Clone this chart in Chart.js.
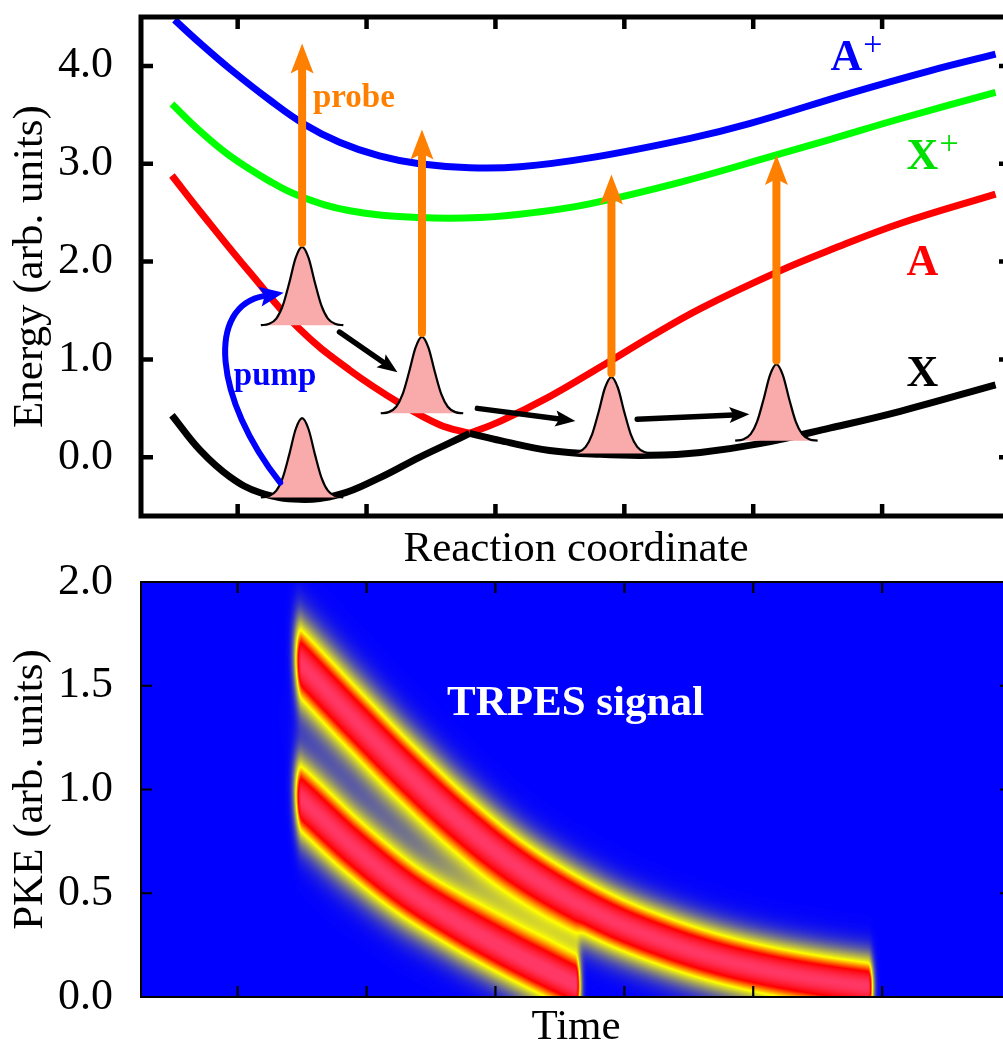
<!DOCTYPE html>
<html>
<head>
<meta charset="utf-8">
<title>Pump-probe photoelectron scheme</title>
<script src="https://cdn.jsdelivr.net/npm/chart.js@4.4.1/dist/chart.umd.min.js"></script>
<style>
  html, body { margin: 0; padding: 0; background: #fff; overflow: hidden; }
  #wrap { position: relative; width: 1003px; height: 1050px; overflow: hidden; }
  canvas { position: absolute; left: 0; }
  #potentials { top: 0; }
  #signal { top: 540px; }
</style>
</head>
<body>
<div id="wrap">
  <canvas id="potentials" width="1030" height="576"></canvas>
  <canvas id="signal" width="1030" height="514"></canvas>
</div>
<script>
// ---- potential curves (reaction coordinate, energy) ----
const groundX = [0.49, 0.71, 0.94, 1.17, 1.48, 1.79, 2.10, 2.41, 2.65, 2.80, 3.04, 3.42, 3.81, 4.20, 4.59, 5.05, 5.60, 6.14, 6.88];
const groundE = [0.43, 0.07, -0.20, -0.36, -0.43, -0.38, -0.21, 0.00, 0.15, 0.245, 0.17, 0.07, 0.03, 0.02, 0.05, 0.14, 0.30, 0.47, 0.74];

const excitedX = [0.49, 0.71, 1.10, 1.48, 1.87, 2.26, 2.57, 2.80, 3.04, 3.42, 3.81, 4.20, 4.59, 5.18, 5.60, 6.14, 6.88];
const excitedE = [2.88, 2.51, 1.88, 1.31, 0.89, 0.55, 0.33, 0.245, 0.37, 0.62, 0.92, 1.23, 1.52, 1.89, 2.12, 2.39, 2.69];

const cationXX = [0.49, 0.71, 0.94, 1.25, 1.48, 1.87, 2.41, 2.88, 3.35, 3.73, 4.43, 5.18, 5.60, 6.14, 6.88];
const cationXE = [3.61, 3.33, 3.08, 2.82, 2.67, 2.52, 2.45, 2.45, 2.51, 2.59, 2.81, 3.09, 3.25, 3.46, 3.73];

const cationAX = [0.51, 0.71, 0.94, 1.25, 1.51, 1.79, 2.10, 2.41, 2.80, 3.19, 3.73, 4.51, 4.97, 5.75, 6.37, 6.88];
const cationAE = [4.47, 4.23, 3.97, 3.65, 3.41, 3.22, 3.08, 3.00, 2.96, 2.97, 3.06, 3.26, 3.41, 3.72, 3.95, 4.12];

const crossingX = 2.80;

// ---- wavepackets ----
const packetX = [1.50, 1.50, 2.43, 3.90, 5.18];
const packetBase = [-0.41, 1.35, 0.45, 0.04, 0.17];
const packetHeight = [0.81, 0.80, 0.78, 0.78, 0.78];
const packetOffsets = [-0.32, -0.26, -0.20, -0.15, -0.10, -0.05, 0, 0.05, 0.10, 0.15, 0.20, 0.26, 0.32];
const packetProfile = [0, 0.015, 0.085, 0.25, 0.54, 0.86, 1, 0.86, 0.54, 0.25, 0.085, 0.015, 0];

// ---- probe arrows, packet hops, pump path ----
const probeX = [1.50, 2.43, 3.90, 5.18];
const probeFrom = [2.19, 1.27, 0.86, 0.99];
const probeTo = [4.23, 3.35, 2.89, 3.09];

const hopFromX = [1.79, 2.86, 4.10];
const hopFromE = [1.28, 0.50, 0.39];
const hopToX = [2.24, 3.62, 4.97];
const hopToE = [0.87, 0.37, 0.44];

const pumpX = [1.33, 0.82, 0.75, 1.21];
const pumpE = [-0.26, 0.59, 1.55, 1.65];

const energyTicks = [0, 1, 2, 3, 4];
const coordTicks = [1, 2, 3, 4, 5, 6];

// ---- TRPES bands (time, photoelectron kinetic energy) ----
const upperBandTime = [1.50, 1.90, 2.30, 2.70, 3.10, 3.50, 3.90, 4.30, 4.70, 5.10, 5.50, 5.89];
const upperBandPke = [1.60, 1.34, 1.09, 0.86, 0.66, 0.50, 0.37, 0.27, 0.19, 0.13, 0.085, 0.05];
const lowerBandTime = [1.50, 1.90, 2.30, 2.70, 3.10, 3.40, 3.62];
const lowerBandPke = [0.95, 0.72, 0.52, 0.36, 0.22, 0.125, 0.06];
const shoulderTime = [1.60, 2.10, 2.88, 3.40, 3.62];
const shoulderPke = [1.21, 0.94, 0.52, 0.30, 0.22];
const shoulderLevel = [0.03, 0.06, 0.10, 0.08, 0.05];

const pkeTicks = [0, 0.5, 1, 1.5, 2];

const SERIF = '"Liberation Serif", "Times New Roman", serif';
Chart.defaults.font.family = SERIF;
Chart.defaults.color = '#000';

const ORANGE = '#ff8000';

function pts(xs, ys) {
  return xs.map((x, i) => ({ x: x, y: ys[i] }));
}

function curve(xs, ys, color) {
  return { data: pts(xs, ys), borderColor: color, borderWidth: 7, fill: false, tension: 0.4, order: 2 };
}

// split at the crossing so the cusp stays sharp
function crossingCurves(xs, ys, color) {
  const k = xs.indexOf(crossingX);
  return [curve(xs.slice(0, k + 1), ys.slice(0, k + 1), color), curve(xs.slice(k), ys.slice(k), color)];
}

const packetSets = packetX.map((cx, i) => ({
  data: packetOffsets.map((dx, k) => ({ x: cx + dx, y: packetBase[i] + packetHeight[i] * packetProfile[k] })),
  borderColor: '#000',
  borderWidth: 2.2,
  backgroundColor: '#f9aaaa',
  fill: { value: packetBase[i] },
  cubicInterpolationMode: 'monotone',
  order: 1
}));

function drawHead(ctx, x1, y1, ux, uy, len, half) {
  const nx = -uy, ny = ux;
  ctx.beginPath();
  ctx.moveTo(x1, y1);
  ctx.lineTo(x1 - ux * len + nx * half, y1 - uy * len + ny * half);
  ctx.lineTo(x1 - ux * len * 0.8, y1 - uy * len * 0.8);
  ctx.lineTo(x1 - ux * len - nx * half, y1 - uy * len - ny * half);
  ctx.closePath();
  ctx.fill();
}

function drawArrow(ctx, x0, y0, x1, y1, width, len, half, color) {
  const ang = Math.atan2(y1 - y0, x1 - x0);
  const ux = Math.cos(ang), uy = Math.sin(ang);
  ctx.strokeStyle = color;
  ctx.fillStyle = color;
  ctx.lineWidth = width;
  ctx.lineCap = 'round';
  ctx.beginPath();
  ctx.moveTo(x0, y0);
  ctx.lineTo(x1 - ux * len * 0.8, y1 - uy * len * 0.8);
  ctx.stroke();
  drawHead(ctx, x1, y1, ux, uy, len, half);
}

function frame(opts) {
  return {
    id: 'frame',
    afterDraw(chart) {
      const { ctx, chartArea: a, scales: { x, y } } = chart;
      ctx.save();
      ctx.strokeStyle = '#000';
      ctx.lineWidth = opts.tickWidth;
      ctx.lineCap = 'butt';
      ctx.beginPath();
      opts.xTicks.forEach(v => {
        const p = x.getPixelForValue(v);
        ctx.moveTo(p, a.bottom); ctx.lineTo(p, a.bottom - opts.tickLen);
        ctx.moveTo(p, a.top); ctx.lineTo(p, a.top + opts.tickLen);
      });
      opts.yTicks.forEach(v => {
        const p = y.getPixelForValue(v);
        ctx.moveTo(a.left, p); ctx.lineTo(a.left + opts.tickLen, p);
        ctx.moveTo(a.right, p); ctx.lineTo(a.right - opts.tickLen, p);
      });
      ctx.stroke();
      ctx.lineWidth = opts.frameWidth;
      ctx.strokeRect(a.left, a.top, a.right - a.left, a.bottom - a.top);
      ctx.restore();
    }
  };
}

const stateLabels = [
  { text: 'A', sup: '+', x: 5.60, y: 3.96, color: '#0000ff' },
  { text: 'X', sup: '+', x: 6.19, y: 2.95, color: '#00e000' },
  { text: 'A', x: 6.19, y: 1.86, color: '#ff0000' },
  { text: 'X', x: 6.19, y: 0.73, color: '#000' }
];

const schemeOverlay = {
  id: 'schemeOverlay',
  afterDatasetsDraw(chart) {
    const { ctx, scales: { x, y } } = chart;
    const X = v => x.getPixelForValue(v), Y = v => y.getPixelForValue(v);
    ctx.save();

    // pump excitation
    const p = pumpX.map((v, i) => [X(v), Y(pumpE[i])]);
    ctx.strokeStyle = '#0000ff';
    ctx.fillStyle = '#0000ff';
    ctx.lineWidth = 6;
    ctx.lineCap = 'round';
    ctx.beginPath();
    ctx.moveTo(p[0][0], p[0][1]);
    ctx.bezierCurveTo(p[1][0], p[1][1], p[2][0], p[2][1], p[3][0], p[3][1]);
    ctx.stroke();
    const ang = Math.atan2(p[3][1] - p[2][1], p[3][0] - p[2][0]);
    const ux = Math.cos(ang), uy = Math.sin(ang);
    drawHead(ctx, p[3][0] + ux * 24 * 0.8, p[3][1] + uy * 24 * 0.8, ux, uy, 24, 10);

    // packet motion
    hopFromX.forEach((v, i) => {
      drawArrow(ctx, X(v), Y(hopFromE[i]), X(hopToX[i]), Y(hopToE[i]), 5.5, 20, 8, '#000');
    });

    // probe ionisation
    probeX.forEach((v, i) => {
      drawArrow(ctx, X(v), Y(probeFrom[i]), X(v), Y(probeTo[i]), 8, 30, 11.5, ORANGE);
    });

    ctx.textBaseline = 'alphabetic';
    ctx.textAlign = 'left';
    ctx.font = 'bold 33px ' + SERIF;
    ctx.fillStyle = ORANGE;
    ctx.fillText('probe', X(1.584), Y(3.58));
    ctx.fillStyle = '#0000ff';
    ctx.fillText('pump', X(0.97), Y(0.74));

    stateLabels.forEach(l => {
      ctx.font = 'bold 44px ' + SERIF;
      ctx.fillStyle = l.color;
      const lx = X(l.x), ly = Y(l.y);
      ctx.fillText(l.text, lx, ly);
      if (l.sup) {
        const w = ctx.measureText(l.text).width;
        ctx.font = '34px ' + SERIF;
        ctx.fillText(l.sup, lx + w + 1, ly - 15);
      }
    });
    ctx.restore();
  }
};

new Chart(document.getElementById('potentials'), {
  type: 'line',
  data: {
    datasets: [
      ...crossingCurves(groundX, groundE, '#000'),
      ...crossingCurves(excitedX, excitedE, '#ff0000'),
      curve(cationXX, cationXE, '#00ff00'),
      curve(cationAX, cationAE, '#0000ff'),
      ...packetSets
    ]
  },
  options: {
    responsive: false,
    animation: false,
    devicePixelRatio: 1,
    events: [],
    layout: { padding: { top: 17, right: 19, left: 0, bottom: 0 } },
    elements: { point: { radius: 0 } },
    plugins: { legend: { display: false }, tooltip: { enabled: false } },
    scales: {
      x: {
        type: 'linear', min: 0.25, max: 7.0,
        grid: { display: false, drawTicks: false }, border: { display: false },
        ticks: { display: false },
        title: { display: true, text: 'Reaction coordinate', font: { size: 43 }, padding: { top: 0, bottom: 0 } },
        afterFit(s) { s.height = 60; s.paddingLeft = 0; s.paddingRight = 0; }
      },
      y: {
        type: 'linear', min: -0.6, max: 4.5,
        grid: { display: false, drawTicks: false }, border: { display: false },
        ticks: { font: { size: 44 }, padding: 28, callback: v => v.toFixed(1) },
        afterBuildTicks(s) { s.ticks = energyTicks.map(v => ({ value: v })); },
        title: { display: true, text: 'Energy (arb. units)', font: { size: 43 }, padding: { top: 5, bottom: 0 } },
        afterFit(s) { s.width = 141; s.paddingTop = 0; s.paddingBottom = 0; }
      }
    }
  },
  plugins: [schemeOverlay, frame({ xTicks: coordTicks, yTicks: energyTicks, tickLen: 12, tickWidth: 4.5, frameWidth: 5 })]
});

// ---- TRPES map ----
function monotone(xs, ys) {
  const n = xs.length, d = [], m = new Array(n);
  for (let i = 0; i < n - 1; i++) d.push((ys[i + 1] - ys[i]) / (xs[i + 1] - xs[i]));
  m[0] = d[0]; m[n - 1] = d[n - 2];
  for (let i = 1; i < n - 1; i++) m[i] = d[i - 1] * d[i] <= 0 ? 0 : (d[i - 1] + d[i]) / 2;
  for (let i = 0; i < n - 1; i++) {
    if (d[i] === 0) { m[i] = 0; m[i + 1] = 0; continue; }
    const a = m[i] / d[i], b = m[i + 1] / d[i], s = a * a + b * b;
    if (s > 9) { const t = 3 / Math.sqrt(s); m[i] = t * a * d[i]; m[i + 1] = t * b * d[i]; }
  }
  // straight continuation past both ends
  return t => {
    if (t <= xs[0]) return ys[0] + m[0] * (t - xs[0]);
    if (t >= xs[n - 1]) return ys[n - 1] + m[n - 1] * (t - xs[n - 1]);
    let i = 0;
    while (t > xs[i + 1]) i++;
    const h = xs[i + 1] - xs[i], s = (t - xs[i]) / h;
    const h00 = (1 + 2 * s) * (1 - s) * (1 - s), h10 = s * (1 - s) * (1 - s);
    const h01 = s * s * (3 - 2 * s), h11 = s * s * (s - 1);
    return h00 * ys[i] + h10 * h * m[i] + h01 * ys[i + 1] + h11 * h * m[i + 1];
  };
}

const bands = [
  { time: upperBandTime, pke: upperBandPke, sigma: 20, fadeIn: 0.04 },
  { time: lowerBandTime, pke: lowerBandPke, sigma: 20, fadeIn: 0.04 },
  { time: shoulderTime, pke: shoulderPke, level: shoulderLevel, sigma: 18, fadeIn: 0.12 }
];

const palette = [
  [0, [0, 0, 255]],
  [0.5, [255, 255, 0]],
  [0.76, [255, 0, 0]],
  [1, [255, 55, 100]]
];

const lut = [];
for (let i = 0; i <= 255; i++) {
  const v = i / 255;
  let k = 0;
  while (k < palette.length - 2 && v > palette[k + 1][0]) k++;
  const [v0, c0] = palette[k], [v1, c1] = palette[k + 1];
  const f = Math.min(1, Math.max(0, (v - v0) / (v1 - v0)));
  lut.push(c0.map((c, j) => Math.round(c + (c1[j] - c) * f)));
}

const signalMap = {
  id: 'signalMap',
  beforeDatasetsDraw(chart) {
    const { ctx, chartArea: a, scales: { x, y } } = chart;
    const left = Math.round(a.left), top = Math.round(a.top);
    const w = Math.round(a.right) - left, h = Math.round(a.bottom) - top;
    const cols = bands.map(b => {
      const centre = monotone(b.time, b.pke);
      const lvTimes = b.level ? b.time : null;
      const t0 = b.time[0], t1 = b.time[b.time.length - 1];
      const out = [];
      for (let i = 0; i < w; i++) {
        const px = left + i + 0.5;
        const t = x.getValueForPixel(px);
        let env = 1;
        if (t < t0) env = Math.exp(-0.5 * Math.pow((t - t0) / b.fadeIn, 2));
        if (t > t1) env = Math.exp(-0.5 * Math.pow((t - t1) / 0.03, 2));
        let lv = 1;
        if (lvTimes) {
          const tc = Math.min(t1, Math.max(t0, t));
          let k = 0;
          while (k < lvTimes.length - 2 && tc > lvTimes[k + 1]) k++;
          const f = (tc - lvTimes[k]) / (lvTimes[k + 1] - lvTimes[k]);
          lv = b.level[k] + (b.level[k + 1] - b.level[k]) * f;
        }
        const cy = y.getPixelForValue(centre(t));
        const ya = y.getPixelForValue(centre(x.getValueForPixel(px - 1)));
        const yb = y.getPixelForValue(centre(x.getValueForPixel(px + 1)));
        const slope = (yb - ya) / 2;
        out.push({ cy: cy, k: 1 / Math.sqrt(1 + slope * slope), amp: env * lv, s2: 2 * b.sigma * b.sigma });
      }
      return out;
    });
    const img = ctx.createImageData(w, h);
    const buf = img.data;
    for (let i = 0; i < w; i++) {
      for (let j = 0; j < h; j++) {
        const py = top + j + 0.5;
        let v = 0;
        for (let b = 0; b < cols.length; b++) {
          const c = cols[b][i];
          if (c.amp < 1e-4) continue;
          const d = (py - c.cy) * c.k;
          v += c.amp * Math.exp(-d * d / c.s2);
        }
        const col = lut[Math.round(Math.min(1, v) * 255)];
        const o = (j * w + i) * 4;
        buf[o] = col[0]; buf[o + 1] = col[1]; buf[o + 2] = col[2]; buf[o + 3] = 255;
      }
    }
    ctx.putImageData(img, left, top);
  },
  afterDatasetsDraw(chart) {
    const { ctx, scales: { x, y } } = chart;
    ctx.save();
    ctx.font = 'bold 43px ' + SERIF;
    ctx.fillStyle = '#fff';
    ctx.textAlign = 'left';
    ctx.textBaseline = 'alphabetic';
    ctx.fillText('TRPES signal', x.getPixelForValue(2.624), y.getPixelForValue(1.36));
    ctx.restore();
  }
};

new Chart(document.getElementById('signal'), {
  type: 'line',
  data: { datasets: [] },
  options: {
    responsive: false,
    animation: false,
    devicePixelRatio: 1,
    events: [],
    layout: { padding: { top: 42, right: 19, left: 0, bottom: 0 } },
    plugins: { legend: { display: false }, tooltip: { enabled: false } },
    scales: {
      x: {
        type: 'linear', min: 0.25, max: 7.0,
        grid: { display: false, drawTicks: false }, border: { display: false },
        ticks: { display: false },
        title: { display: true, text: 'Time', font: { size: 43 }, padding: { top: 0, bottom: 0 } },
        afterFit(s) { s.height = 57; s.paddingLeft = 0; s.paddingRight = 0; }
      },
      y: {
        type: 'linear', min: 0, max: 2,
        grid: { display: false, drawTicks: false }, border: { display: false },
        ticks: { font: { size: 44 }, padding: 28, callback: v => v.toFixed(1) },
        afterBuildTicks(s) { s.ticks = pkeTicks.map(v => ({ value: v })); },
        title: { display: true, text: 'PKE (arb. units)', font: { size: 43 }, padding: { top: 5, bottom: 0 } },
        afterFit(s) { s.width = 141; s.paddingTop = 0; s.paddingBottom = 0; }
      }
    }
  },
  plugins: [signalMap, frame({ xTicks: coordTicks, yTicks: pkeTicks, tickLen: 11, tickWidth: 2.2, frameWidth: 2 })]
});
</script>
</body>
</html>
